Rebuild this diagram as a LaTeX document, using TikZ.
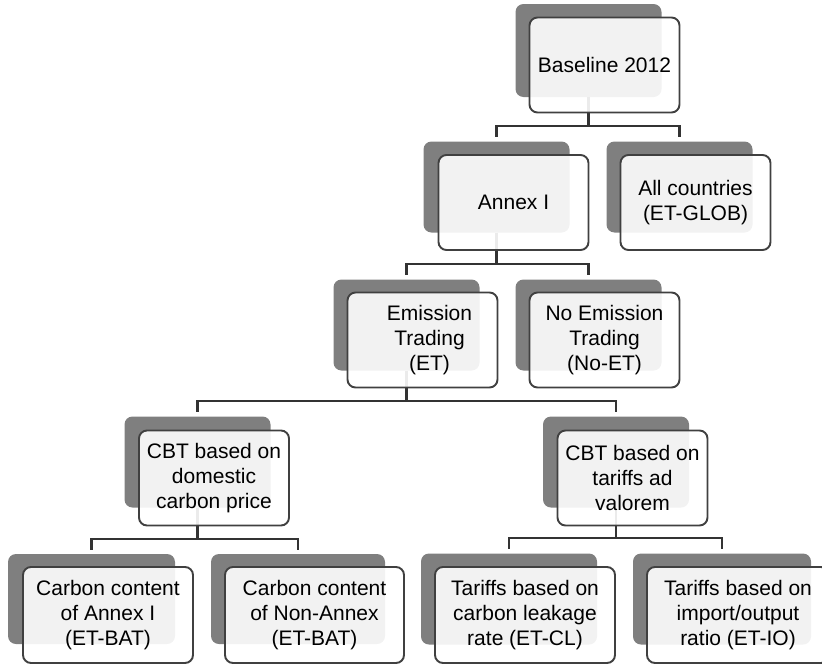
\documentclass[tikz,border=0pt]{standalone}
\usepackage{fontspec}
\setmainfont{Liberation Sans}
\usetikzlibrary{calc}
\definecolor{darkbox}{HTML}{7F7F7F}
\definecolor{rim}    {HTML}{404040}
\definecolor{wire}   {HTML}{333333}
\tikzset{
  back/.style  ={fill=darkbox, rounded corners=8pt, inner sep=0pt,
                 minimum width=146pt, minimum height=91pt},
  front/.style ={draw=rim, line width=1.9pt, fill=white, fill opacity=0.9,
                 draw opacity=1, text opacity=1, rounded corners=8pt, inner sep=0pt,
                 minimum width=150pt, minimum height=95pt,
                 align=center, text=black,
                 font=\fontsize{21}{25}\selectfont},
  link/.style  ={draw=wire, line width=2.3pt},
}

\begin{document}
\begin{tikzpicture}[x=1pt,y=-1pt]
  \useasboundingbox (0,0) rectangle (822,664);
  % dark back panels
  \node[back,minimum height=93pt] (sbase)  at (588.5, 50.5) {};
  \node[back] (sannex) at (496.5,187) {};
  \node[back] (sglob)  at (679.5,187) {};
  \node[back] (set)    at (406.5,325) {};
  \node[back] (snoet)  at (588.5,325) {};
  \node[back] (scbtd)  at (197.5,462) {};
  \node[back] (scbtt)  at (616,462) {};
  \node[back,minimum width=167pt,minimum height=90pt] (sbata) at (91.5,599) {};
  \node[back,minimum width=174pt,minimum height=90pt] (sbatn) at (298,599) {};
  \node[back,minimum width=176pt,minimum height=91pt] (scl)   at (509,599) {};
  \node[back,minimum width=178pt,minimum height=91pt] (sio)   at (722,599) {};
  % connectors
  \foreach \p/\c in {sbase/sannex, sbase/sglob, sannex/set, sannex/snoet,
                     set/scbtd, set/scbtt, scbtd/sbata, scbtd/sbatn,
                     scbtt/scl, scbtt/sio}
    \draw[link] (\p.south) |- ([yshift=15pt]\c.north) -- ([yshift=4pt]\c.north);
  % front boxes
  \node[front] (base)  at ($(sbase)+(16,14.5)$) {Baseline 2012};
  \node[front] (annex) at ($(sannex)+(17,15.5)$) {Annex I};
  \node[front] (glob)  at ($(sglob)+(16,15.5)$) {All countries\\(ET-GLOB)};
  \node[front] (et)    at ($(set)+(16,15)$)
    {\hspace*{14pt}Emission\\\hspace*{14pt}Trading\\\hspace*{14pt}(ET)};
  \node[front] (noet)  at ($(snoet)+(16,15)$) {No Emission\\Trading\\(No-ET)};
  \node[front] (cbtd)  at ($(scbtd)+(16.5,16)$) {CBT based on\\domestic\\carbon price};
  \node[front] (cbtt)  at ($(scbtt)+(16.5,16)$) {CBT based on\\tariffs ad\\valorem};
  \node[front,minimum width=170pt,minimum height=96pt] (bata) at ($(sbata)+(16.5,16)$)
    {Carbon content\\of Annex I\\(ET-BAT)};
  \node[front,minimum width=179pt,minimum height=96pt] (batn) at ($(sbatn)+(16.5,16)$)
    {Carbon content\\of Non-Annex\\(ET-BAT)};
  \node[front,minimum width=180pt,minimum height=96pt] (cl)   at ($(scl)+(16,16)$)
    {Tariffs based on\\carbon leakage\\rate (ET-CL)};
  \node[front,minimum width=182pt,minimum height=96pt] (io)   at ($(sio)+(16,16)$)
    {Tariffs based on\\import/output\\ratio (ET-IO)};
\end{tikzpicture}
\end{document}
